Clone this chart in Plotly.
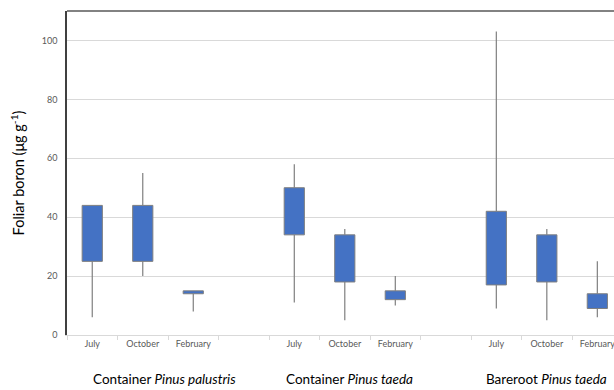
import plotly.graph_objects as go

# Data
positions = [0, 1, 2, 4, 5, 6, 8, 9, 10]
months = ["July", "October", "February"] * 3
q1 = [25, 25, 14, 34, 18, 12, 17, 18, 9]
q3 = [44, 44, 15, 50, 34, 15, 42, 34, 14]
low = [6, 20, 8, 11, 5, 10, 9, 5, 6]
high = [44, 55, 15, 58, 36, 20, 103, 36, 25]
groups = ["Container <i>Pinus palustris</i>", "Container <i>Pinus taeda</i>", "Bareroot <i>Pinus taeda</i>"]
group_x = [1.44, 5.1, 9.0]
y_ticks = [0, 20, 40, 60, 80, 100]

FONT = "Lato"
BLUE = "#4472C4"
GRAY = "#7f7f7f"

fig = go.Figure()

# whiskers (split to stay outside boxes)
wx, wy = [], []
for p, lo, a, b, hi in zip(positions, low, q1, q3, high):
    if lo < a:
        wx += [p, p, None]
        wy += [lo, a, None]
    if hi > b:
        wx += [p, p, None]
        wy += [b, hi, None]
fig.add_trace(go.Scatter(x=wx, y=wy, mode="lines",
                         line=dict(color=GRAY, width=1.2),
                         hoverinfo="skip", showlegend=False))

fig.add_trace(go.Bar(x=positions, y=[b - a for a, b in zip(q1, q3)], base=q1,
                     width=0.4, marker=dict(color=BLUE, line=dict(color=GRAY, width=1)),
                     showlegend=False))

for gx, g in zip(group_x, groups):
    fig.add_annotation(x=gx, xref="x", y=-0.135, yref="paper", yanchor="middle",
                       text=g, showarrow=False,
                       font=dict(family=FONT, size=13.5, color="#000000"))

fig.add_shape(type="line", xref="paper", yref="paper", x0=0, x1=1, y0=1, y1=1,
              line=dict(color="#595959", width=1.5))

fig.update_layout(
    width=614, height=390,
    margin=dict(l=67, r=0, t=11, b=55),
    plot_bgcolor="white", paper_bgcolor="white",
    font=dict(family=FONT),
    xaxis=dict(range=[-0.5, 10.33], tickmode="array", tickvals=positions, ticktext=months,
               ticks="", showgrid=False, zeroline=False, ticklabeloverflow="allow",
               showline=True, linecolor="#d9d9d9", linewidth=1,
               tickfont=dict(family=FONT, size=9, color="#595959"),
               minor=dict(tickmode="array", tickvals=[-0.5 + i for i in range(12)],
                          ticks="outside", ticklen=4, tickcolor="#d9d9d9", tickwidth=1,
                          showgrid=False)),
    yaxis=dict(range=[0, 110], tickvals=y_ticks, showgrid=True, gridcolor="#d9d9d9",
               zeroline=False, showline=True, linecolor="#404040", linewidth=1.5,
               ticks="", ticklabelstandoff=6,
               tickfont=dict(family=FONT, size=9, color="#595959"),
               title=dict(text="Foliar boron (μg g<sup>-1</sup>)",
                          font=dict(family=FONT, size=14.5, color="#000000"),
                          standoff=14)),
)

fig.write_html("out.html")
